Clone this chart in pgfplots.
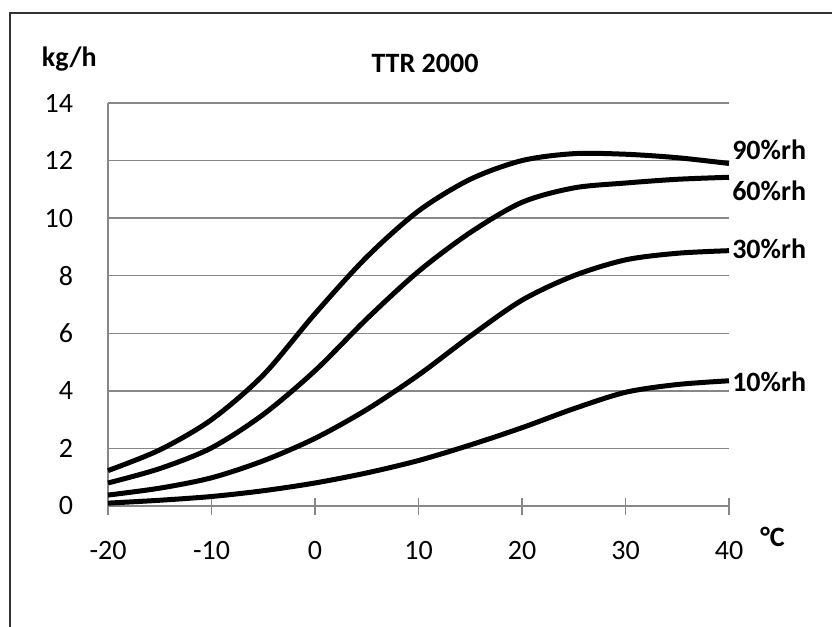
\documentclass[border=0pt]{standalone}
\usepackage{fontspec}
\setmainfont{Carlito}
\usepackage{pgfplots}
\pgfplotsset{compat=1.18}
\definecolor{gridgray}{HTML}{878787}
\newcommand{\tickfont}{\fontsize{21}{24}\selectfont}
\begin{document}
\begin{tikzpicture}
\useasboundingbox (-81pt,-90pt) rectangle (543pt,379.5pt);
\draw[black!80, line width=0.8pt] (-73.5pt,-95pt) -- (-73.5pt,369.75pt) -- (550pt,369.75pt);
\begin{axis}[
  at={(0pt,0pt)}, anchor=south west,
  scale only axis, width=465.75pt, height=302.25pt,
  xmin=-20, xmax=40, ymin=0, ymax=14,
  xtick={-20,-10,0,10,20,30,40},
  ytick={0,2,4,6,8,10,12,14},
  axis x line*=bottom, axis y line*=left,
  axis line style={gridgray, line width=1.1pt, -},
  ymajorgrids, grid style={gridgray, line width=1.1pt},
  major x tick style={gridgray, line width=1.1pt},
  major y tick style={draw=none},
  tick align=center, major tick length=12.75pt,
  /pgf/number format/assume math mode=true,
  xticklabel={\tickfont\pgfmathprintnumber{\tick}},
  yticklabel={\tickfont\pgfmathprintnumber{\tick}},
  xticklabel style={anchor=north, inner sep=0pt, yshift=-20.25pt},
  yticklabel style={anchor=east, inner sep=0pt, xshift=-19.7pt},
  clip=false,
]
\addplot[black, line width=3.75pt, smooth] coordinates {
(-20,1.23) (-15,1.95) (-10,3.0) (-5,4.55) (0,6.68) (5,8.65) (10,10.25) (15,11.35) (20,12.0) (25,12.24) (30,12.22) (35,12.1) (40,11.9)};
\addplot[black, line width=3.75pt, smooth] coordinates {
(-20,0.8) (-15,1.3) (-10,2.02) (-5,3.18) (0,4.7) (5,6.5) (10,8.15) (15,9.5) (20,10.55) (25,11.05) (30,11.22) (35,11.35) (40,11.42)};
\addplot[black, line width=3.75pt, smooth] coordinates {
(-20,0.38) (-15,0.62) (-10,0.98) (-5,1.57) (0,2.35) (5,3.35) (10,4.55) (15,5.9) (20,7.15) (25,8.0) (30,8.55) (35,8.78) (40,8.87)};
\addplot[black, line width=3.75pt, smooth] coordinates {
(-20,0.1) (-15,0.2) (-10,0.33) (-5,0.53) (0,0.8) (5,1.15) (10,1.58) (15,2.12) (20,2.72) (25,3.38) (30,3.95) (35,4.22) (40,4.35)};
\end{axis}
\begin{scope}[every node/.style={inner sep=0pt, font=\fontsize{21}{24}\selectfont\bfseries}]
\node[anchor=base west] at (-49.7pt,329.25pt) {kg/h};
\node[anchor=base] at (237.75pt,324.75pt) {TTR 2000};
\node[anchor=base west] at (489pt,-30pt) {°C};
\node[anchor=base west] at (468pt,259.9pt) {90\%rh};
\node[anchor=base west] at (468pt,228.9pt) {60\%rh};
\node[anchor=base west] at (468pt,185.4pt) {30\%rh};
\node[anchor=base west] at (468pt,85.6pt) {10\%rh};
\end{scope}
\end{tikzpicture}
\end{document}
